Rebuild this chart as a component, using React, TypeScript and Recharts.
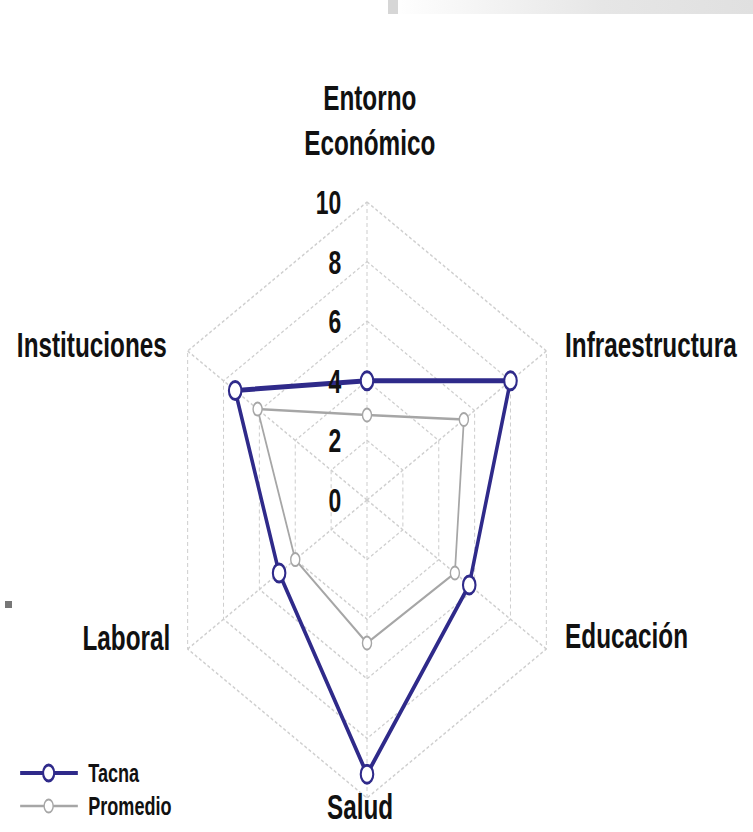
import React from "react"
import { RadarChart, Radar, PolarGrid, PolarAngleAxis, PolarRadiusAxis, Legend } from "recharts"

const categories = ["Entorno Económico", "Infraestructura", "Educación", "Salud", "Laboral", "Instituciones"]
const tacna = [4.0, 8.0, 5.7, 9.2, 4.9, 7.35]
const promedio = [2.85, 5.4, 4.9, 4.8, 4.0, 6.1]
const radiusTicks = [0, 2, 4, 6, 8, 10]

const seriesNames = ["Tacna", "Promedio"]
const seriesColors = ["#2f2a8a", "#a6a6a6"]

const data = categories.map((c, i) => ({ axis: c, Tacna: tacna[i], Promedio: promedio[i] }))

// the original picture is squeezed horizontally, so draw wide and scale x
const SX = 0.695
const W = 753 / SX
const H = 832
const FONT = "'Liberation Sans', Arial, sans-serif"

const labelPos: Record<string, { dx: number; dy: number; anchor: string; lines: string[] }> = {
  "Entorno Económico": { dx: 4, dy: -84, anchor: "middle", lines: ["Entorno", "Económico"] },
  Infraestructura: { dx: 20, dy: 10, anchor: "start", lines: ["Infraestructura"] },
  "Educación": { dx: 20, dy: -5, anchor: "start", lines: ["Educación"] },
  Salud: { dx: -10, dy: 13, anchor: "middle", lines: ["Salud"] },
  Laboral: { dx: -18, dy: -3, anchor: "end", lines: ["Laboral"] },
  Instituciones: { dx: -23, dy: 10, anchor: "end", lines: ["Instituciones"] },
}

const AngleTick = (props: any) => {
  const { x, y, payload } = props
  const p = labelPos[payload.value]
  if (!p) return null
  return (
    <text x={x + p.dx} y={y + p.dy} textAnchor={p.anchor} fontFamily={FONT} fontWeight="bold" fontSize={35} fill="#111">
      {p.lines.map((l, i) => (
        <tspan key={i} x={x + p.dx} dy={i === 0 ? 0 : 45}>
          {l}
        </tspan>
      ))}
    </text>
  )
}

const RadiusTick = (props: any) => {
  const { x, y, payload } = props
  return (
    <text x={x - 37} y={y + 12} textAnchor="end" fontFamily={FONT} fontWeight="bold" fontSize={33} fill="#111">
      {payload.value}
    </text>
  )
}

const LegendBox = () => (
  <svg width={300} height={75}>
    {seriesNames.map((n, i) => {
      const yy = 23 + i * 33
      const main = i === 0
      return (
        <g key={n}>
          <line x1={29} x2={112} y1={yy} y2={yy} stroke={seriesColors[i]} strokeWidth={main ? 4 : 2.5} />
          <circle cx={70} cy={yy} r={main ? 8 : 6.5} fill="#fff" stroke={seriesColors[i]} strokeWidth={main ? 3 : 2} />
          <text x={127} y={yy + 9} fontFamily={FONT} fontWeight="bold" fontSize={26} fill="#111">
            {n}
          </text>
        </g>
      )
    })}
  </svg>
)

export default function App() {
  return (
    <div style={{ position: "absolute", left: 0, top: 0, width: 753, height: 832, overflow: "hidden", background: "#fff" }}>
      <div
        style={{
          position: "absolute",
          left: 0,
          top: 0,
          width: 753,
          height: 14,
          background: "linear-gradient(to right, #fff 0%, #fff 52%, #e6e6e6 80%, #e0e0e0 100%)",
        }}
      />
      <div style={{ position: "absolute", left: 388, top: 0, width: 10, height: 14, background: "#d6d6d6" }} />
      <div style={{ position: "absolute", left: 5, top: 601, width: 7, height: 7, background: "#777" }} />
      <div style={{ width: W, height: H, transform: `scaleX(${SX})`, transformOrigin: "0 0" }}>
        <RadarChart width={W} height={H} data={data} cx={367 / SX} cy={500} outerRadius={298} margin={{ top: 0, right: 0, bottom: 0, left: 0 }}>
          <PolarGrid gridType="polygon" stroke="#cfcfcf" strokeDasharray="4 3" strokeWidth={1.5} />
          <PolarAngleAxis dataKey="axis" tick={<AngleTick />} tickLine={false} axisLine={false} />
          <PolarRadiusAxis
            angle={90}
            domain={[0, 10]}
            ticks={radiusTicks as any}
            tickCount={6}
            axisLine={false}
            tickLine={false}
            tick={<RadiusTick />}
          />
          <Radar
            name={seriesNames[1]}
            dataKey="Promedio"
            stroke={seriesColors[1]}
            strokeWidth={2.5}
            fill="none"
            fillOpacity={0}
            dot={{ r: 6.5, fill: "#fff", stroke: seriesColors[1], strokeWidth: 2, fillOpacity: 1 }}
            isAnimationActive={false}
          />
          <Radar
            name={seriesNames[0]}
            dataKey="Tacna"
            stroke={seriesColors[0]}
            strokeWidth={5}
            fill="none"
            fillOpacity={0}
            dot={{ r: 9, fill: "#fff", stroke: seriesColors[0], strokeWidth: 3, fillOpacity: 1 }}
            isAnimationActive={false}
          />
          <Legend content={<LegendBox />} wrapperStyle={{ left: 0, top: 750, width: 300 }} />
        </RadarChart>
      </div>
    </div>
  )
}
